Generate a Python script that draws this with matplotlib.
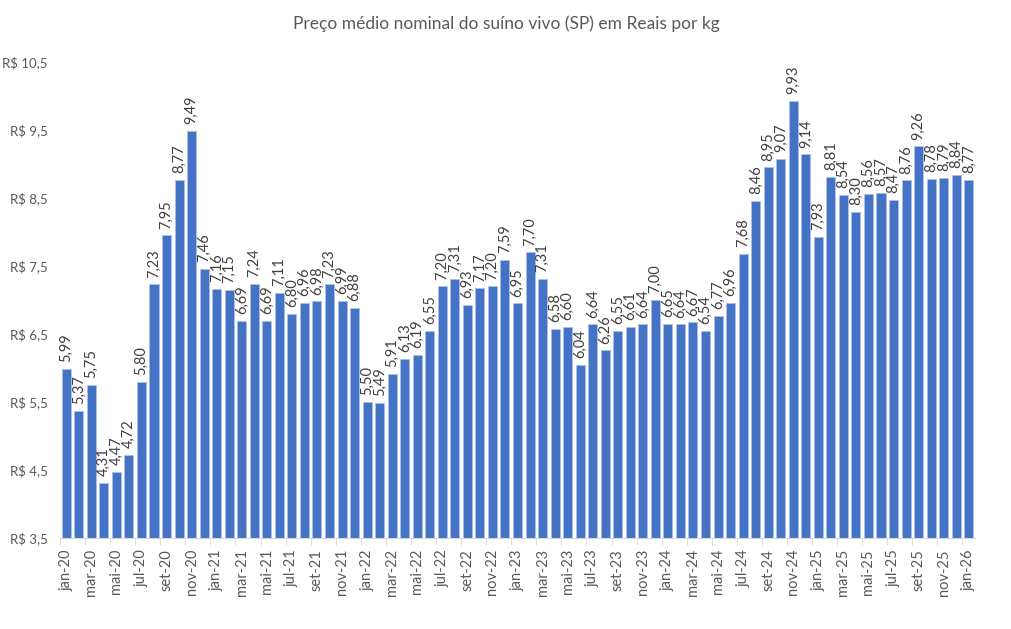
import matplotlib.pyplot as plt
import numpy as np

plt.rcParams['font.family'] = ['Lato', 'DejaVu Sans']

# Dados mensais (R$/kg)
meses = ['jan', 'fev', 'mar', 'abr', 'mai', 'jun', 'jul', 'ago', 'set', 'out', 'nov', 'dez']
anos = ['20', '21', '22', '23', '24', '25', '26']

precos_2020 = [5.99, 5.37, 5.75, 4.31, 4.47, 4.72, 5.80, 7.23, 7.95, 8.77, 9.49, 7.46]
precos_2021 = [7.16, 7.15, 6.69, 7.24, 6.69, 7.11, 6.80, 6.96, 6.98, 7.23, 6.99, 6.88]
precos_2022 = [5.50, 5.49, 5.91, 6.13, 6.19, 6.55, 7.20, 7.31, 6.93, 7.17, 7.20, 7.59]
precos_2023 = [6.95, 7.70, 7.31, 6.58, 6.60, 6.04, 6.64, 6.26, 6.55, 6.61, 6.64, 7.00]
precos_2024 = [6.65, 6.64, 6.67, 6.54, 6.77, 6.96, 7.68, 8.46, 8.95, 9.07, 9.93, 9.14]
precos_2025 = [7.93, 8.81, 8.54, 8.30, 8.56, 8.57, 8.47, 8.76, 9.26, 8.78, 8.79, 8.84]
precos_2026 = [8.77]

precos = precos_2020 + precos_2021 + precos_2022 + precos_2023 + precos_2024 + precos_2025 + precos_2026
rotulos = [f'{m}-{a}' for a in anos for m in meses][:len(precos)]

cinza = '#595959'
azul = '#4472C4'

fig = plt.figure(figsize=(10.12, 6.29), dpi=100)
ax = fig.add_axes([60 / 1012, 91 / 629, 915 / 1012, 476 / 629])

x = np.arange(len(precos))
base = 3.5
ax.bar(x, np.array(precos) - base, bottom=base, width=0.72, color=azul,
       edgecolor='#A9C0E8', linewidth=0.6)

# rótulos de dados na vertical
for xi, v in zip(x, precos):
    ax.text(xi, v + 0.1, f'{v:.2f}'.replace('.', ','), rotation=90, ha='center', va='bottom',
            fontsize=10.5, color='#404040')

ax.set_xlim(-0.5, len(precos) - 0.5)
ax.set_ylim(3.5, 10.5)
yt = np.arange(3.5, 10.6, 1.0)
ax.set_yticks(yt)
ax.set_yticklabels([f'R$ {t:.1f}'.replace('.', ',') for t in yt], fontsize=9.5, color=cinza)

ax.set_xticks(x[::2])
ax.set_xticklabels(rotulos[::2], rotation=90, fontsize=10.5, color=cinza)
ax.set_xticks(np.arange(-0.5, len(precos), 2), minor=True)
ax.tick_params(axis='x', which='major', length=0, pad=8)
ax.tick_params(axis='x', which='minor', length=5, color='#D9D9D9')
ax.tick_params(axis='y', length=0, pad=9)

for lado in ['top', 'right', 'left']:
    ax.spines[lado].set_visible(False)
ax.spines['bottom'].set_color('#D9D9D9')

fig.suptitle('Preço médio nominal do suíno vivo (SP) em Reais por kg', fontsize=12.5, color=cinza, y=0.975)

fig.savefig('out.png', dpi=100)
